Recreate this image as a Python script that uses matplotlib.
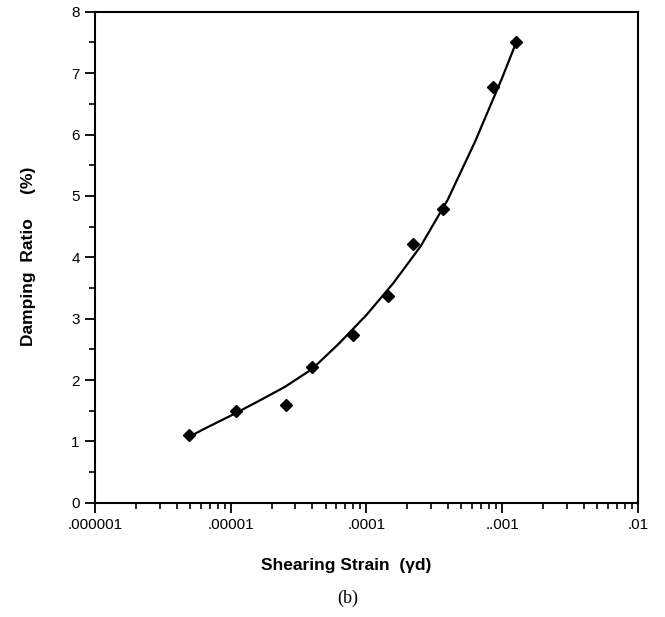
import numpy as np
import matplotlib.pyplot as plt
from matplotlib.ticker import FixedLocator, LogLocator, NullFormatter

# measured points
strain = [4.9e-6, 1.1e-5, 2.55e-5, 4.0e-5, 7.9e-5, 1.45e-4, 2.2e-4, 3.7e-4, 8.6e-4, 1.27e-3]
damping = [1.1, 1.5, 1.6, 2.22, 2.73, 3.37, 4.22, 4.78, 6.78, 7.5]

# fitted curve
curve_x = [4.9e-6, 6.3e-6, 1e-5, 1.58e-5, 2.51e-5, 3.98e-5, 6.31e-5, 1e-4,
           1.58e-4, 2.51e-4, 3.98e-4, 6.31e-4, 1e-3, 1.23e-3]
curve_y = [1.07, 1.20, 1.42, 1.65, 1.89, 2.18, 2.60, 3.06,
           3.58, 4.18, 4.94, 5.88, 6.92, 7.42]

xticks = [1e-6, 1e-5, 1e-4, 1e-3, 1e-2]
xticklabels = ['.000001', '.00001', '.0001', '..001', '.01']
yticks = [0, 1, 2, 3, 4, 5, 6, 7, 8]

fig = plt.figure(figsize=(6.65, 6.17), dpi=100)
ax = fig.add_axes([0.143, 0.185, 0.816, 0.796])

ax.plot(curve_x, curve_y, color='black', lw=1.6)
ax.plot(strain, damping, 'D', color='black', ms=6.5)

ax.set_xscale('log')
ax.set_xlim(1e-6, 1e-2)
ax.set_ylim(0, 8)

ax.set_xticks(xticks)
ax.set_xticklabels(xticklabels, fontsize=11, family='Liberation Sans')
ax.xaxis.set_minor_locator(LogLocator(base=10, subs=np.arange(2, 10)))
ax.xaxis.set_minor_formatter(NullFormatter())
ax.set_yticks(yticks)
ax.set_yticklabels([str(v) for v in yticks], fontsize=11, family='Liberation Sans')
ax.yaxis.set_minor_locator(FixedLocator(np.arange(0.5, 8, 1.0)))

ax.tick_params(which='major', direction='out', length=7, width=1.3, pad=4)
ax.tick_params(which='minor', direction='out', length=4, width=1.2)
for s in ax.spines.values():
    s.set_linewidth(1.5)

fig.text(0.52, 0.083, 'Shearing Strain  (γd)', ha='center', va='center',
         fontsize=12.5, fontweight='bold', family='Liberation Sans')
fig.text(0.043, 0.585, 'Damping  Ratio     (%)', ha='center', va='center',
         rotation=90, fontsize=12.5, fontweight='bold', family='Liberation Sans')
fig.text(0.523, 0.03, '(b)', ha='center', va='center', fontsize=13,
         family='Liberation Serif')

fig.savefig('out.png', dpi=100)
